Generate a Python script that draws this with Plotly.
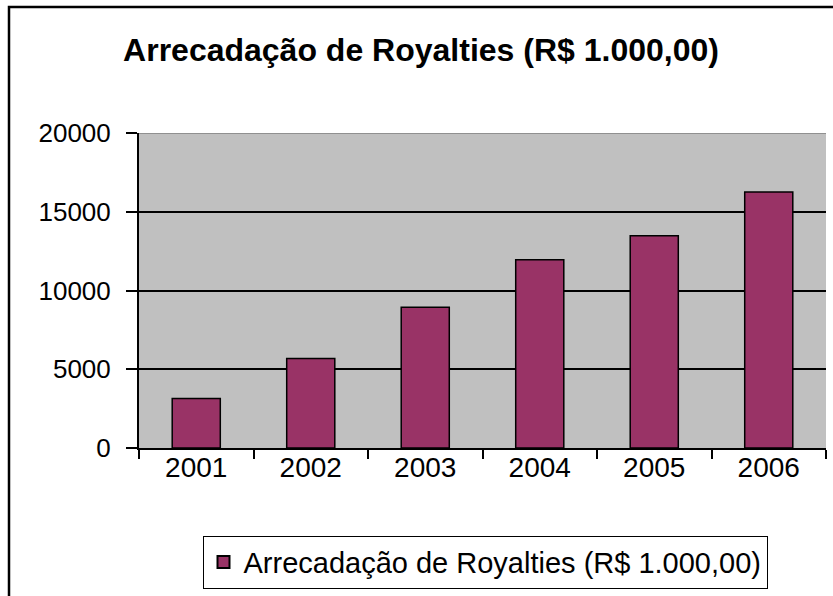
import plotly.graph_objects as go

years = ["2001", "2002", "2003", "2004", "2005", "2006"]
values = [3150, 5680, 8930, 11950, 13480, 16250]
series_name = "Arrecadação de Royalties (R$ 1.000,00)"
title_text = "Arrecadação de Royalties (R$ 1.000,00)"
y_ticks = [0, 5000, 10000, 15000, 20000]

W, H = 833, 596
ml, mr, mt, mb = 139, 7, 133, 143
pw = W - ml - mr
ph = H - mt - mb

def px_x(x):
    return (x - ml) / pw

def px_y(y):
    return (H - mb - y) / ph

fig = go.Figure()
fig.add_trace(go.Bar(
    x=years, y=values, name=series_name,
    marker=dict(color="#993366", line=dict(color="black", width=1.5)),
    width=0.42, showlegend=True,
))

font = "Liberation Sans, Arial, sans-serif"
fig.update_layout(
    width=W, height=H,
    margin=dict(l=ml, r=mr, t=mt, b=mb, pad=0),
    paper_bgcolor="white", plot_bgcolor="#C0C0C0",
    font=dict(family=font, color="black", size=28),
    title=dict(text="<b>" + title_text + "</b>", xref="container", x=421 / W, xanchor="center",
               yref="container", y=1 - 50 / H, yanchor="middle", font=dict(size=32, family=font)),
    showlegend=True,
    legend=dict(orientation="h", x=px_x(485), xanchor="center", y=px_y(569), yanchor="middle",
                bordercolor="black", borderwidth=1, bgcolor="white",
                font=dict(size=29, family=font), itemsizing="constant"),
)
fig.update_xaxes(type="category", showline=True, linecolor="black", linewidth=1.5,
                 ticks="outside", tickson="boundaries", ticklen=9, tickcolor="black",
                 tickwidth=1.5, showgrid=False, tickfont=dict(size=28),
                 ticklabelstandoff=-6, fixedrange=True)
fig.update_yaxes(range=[0, 20000], tickvals=y_ticks, tickformat="d", showline=True,
                 linecolor="black", linewidth=2, ticks="outside", ticklen=11,
                 tickcolor="black", tickwidth=1.5,
                 showgrid=True, gridcolor="black", gridwidth=1.5, zeroline=False,
                 tickfont=dict(size=26), ticklabelstandoff=10, fixedrange=True)

# grey top edge of plot area
fig.add_shape(type="line", xref="paper", yref="y", x0=0, x1=1, y0=20000, y1=20000,
              line=dict(color="#808080", width=1.5), layer="above")
# outer chart border
fig.add_shape(type="rect", xref="paper", yref="paper",
              x0=px_x(9), x1=px_x(845), y0=px_y(640), y1=px_y(5),
              line=dict(color="black", width=2.5), fillcolor="rgba(0,0,0,0)")

fig.write_html("out.html", config={"displayModeBar": False},
               post_script="document.body.style.margin='0px';")
